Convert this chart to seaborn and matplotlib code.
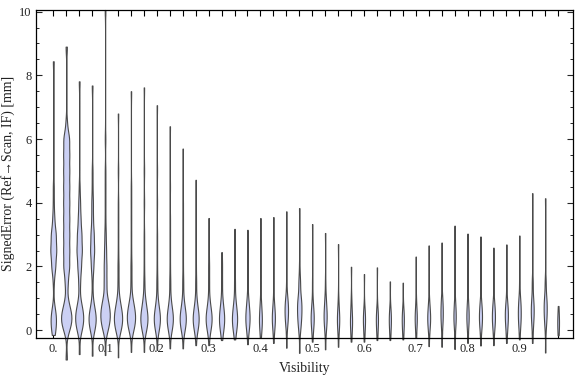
import numpy as np
import pandas as pd
import matplotlib
matplotlib.use("Agg")
import matplotlib.pyplot as plt
import seaborn as sns
from matplotlib.ticker import FixedLocator, MultipleLocator

# Visibility bins (one violin each)
visibility = [0.000, 0.025, 0.050, 0.075, 0.100, 0.125, 0.150, 0.175, 0.200, 0.225,
              0.250, 0.275, 0.300, 0.325, 0.350, 0.375, 0.400, 0.425, 0.450, 0.475,
              0.500, 0.525, 0.550, 0.575, 0.600, 0.625, 0.650, 0.675, 0.700, 0.725,
              0.750, 0.775, 0.800, 0.825, 0.850, 0.875, 0.900, 0.925, 0.950, 0.975]

# extremes of the signed error per bin [mm]
err_min = [-0.15, -0.92, -0.75, -0.80, -0.78, -0.85, -0.68, -0.68, -0.62, -0.57,
           -0.57, -0.47, -0.47, -0.31, -0.29, -0.44, -0.23, -0.40, -0.55, -0.71,
           -0.36, -0.60, -0.52, -0.36, -0.36, -0.31, -0.31, -0.29, -0.23, -0.50,
           -0.52, -0.59, -0.40, -0.48, -0.47, -0.40, -0.29, -0.40, -0.70, -0.16]
err_max = [8.44, 8.90, 7.81, 7.68, 10.05, 6.80, 7.50, 7.62, 7.06, 6.40,
           5.70, 4.72, 3.52, 2.45, 3.18, 3.15, 3.52, 3.55, 3.73, 3.83,
           3.33, 3.05, 2.70, 1.99, 1.76, 1.97, 1.53, 1.49, 2.31, 2.66,
           2.75, 3.28, 3.03, 2.94, 2.59, 2.69, 2.97, 4.30, 4.14, 0.76]

# binned error samples: counts at each error level [mm]
levels = [0, 0.25, 0.5, 0.75, 1.0, 1.5, 2.0, 2.5, 3.0, 3.5, 4.0, 4.5, 5.0, 5.5, 6.0, 6.5]
level_counts = [
    [2, 3, 3, 1, 0, 1, 4, 6, 5, 2, 1, 1],
    [2, 4, 4, 2, 1, 2, 4, 4, 4, 4, 4, 4, 4, 4, 4, 1],
    [3, 5, 5, 3, 1, 2, 4, 6, 5, 3, 2, 1],
    [3, 5, 5, 2, 1, 1, 3, 5, 4, 2, 2, 1, 1],
    [4, 7, 8, 6, 4, 4, 4, 3, 2, 1, 1, 1, 1, 0, 1],
    [6, 9, 9, 5, 3, 2, 2, 1, 1, 1, 1, 0, 1],
    [5, 9, 9, 6, 3, 2, 2, 1, 1, 1, 1, 1],
    [5, 8, 8, 4, 3, 2, 1, 1, 1, 0, 1, 0, 1],
    [4, 7, 7, 3, 2, 2, 1, 1, 1, 0, 1, 0, 1],
    [4, 7, 7, 3, 2, 2, 1, 1, 1, 1, 0, 1],
    [4, 7, 7, 3, 2, 2, 1, 1, 1, 1, 1],
    [4, 7, 7, 3, 2, 2, 1, 1, 1, 1],
    [4, 7, 7, 3, 2, 2, 2, 1, 1],
    [4, 6, 6, 3, 2, 2, 2],
    [4, 6, 6, 3, 2, 2, 1, 1],
    [3, 5, 5, 3, 2, 1, 1],
    [2, 4, 3, 2, 1, 1],
    [2, 4, 4, 2, 1, 1],
    [1, 3, 4, 4, 3, 1],
    [2, 3, 4, 4, 4, 3, 1],
    [2, 4, 4, 2, 1, 1],
    [2, 3, 4, 2, 2, 1],
    [2, 3, 3, 1, 1],
    [2, 3, 2, 1, 1],
    [2, 3, 3, 1],
    [2, 3, 3, 1],
    [2, 3, 3, 1],
    [2, 3, 3, 1],
    [1, 3, 3, 1, 1],
    [2, 4, 4, 2, 1],
    [1, 2, 3, 2, 2],
    [1, 3, 3, 2, 1],
    [1, 3, 3, 2, 1],
    [2, 4, 4, 3, 1],
    [2, 4, 4, 3, 1],
    [2, 3, 4, 3, 1, 1],
    [1, 3, 3, 3, 2, 1],
    [1, 2, 3, 3, 2, 2],
    [1, 2, 3, 3, 3, 2],
    [2, 3, 2],
]

xtick_values = [0.0, 0.1, 0.2, 0.3, 0.4, 0.5, 0.6, 0.7, 0.8, 0.9]
xtick_labels = ["0.", "0.1", "0.2", "0.3", "0.4", "0.5", "0.6", "0.7", "0.8", "0.9"]
ytick_values = [0, 2, 4, 6, 8, 10]

rows = []
for v, lo, hi, cnt in zip(visibility, err_min, err_max, level_counts):
    vals = [lo] + list(np.repeat(levels[:len(cnt)], cnt)) + [hi]
    rows += [(v, e) for e in vals]
df = pd.DataFrame(rows, columns=["Visibility", "SignedError"])

sns.set_style("ticks")
plt.rcParams["font.family"] = ["Liberation Serif", "DejaVu Serif"]


def fixed_bw(kde):
    # same absolute smoothing for every bin
    return 0.24 / kde.dataset.std(ddof=1)


fig = plt.figure(figsize=(5.76, 3.77), dpi=100)
ax = fig.add_axes([36 / 576, 39.5 / 377, 537 / 576, 327.5 / 377])

sns.violinplot(data=df, x="Visibility", y="SignedError", native_scale=True,
               inner=None, cut=0, density_norm="count", width=0.8,
               bw_method=fixed_bw, color="#cbd0f4", saturation=1,
               linecolor="#4a4a4a", linewidth=0.8, ax=ax)
for c in ax.collections:
    c.set_clip_on(False)

ax.set_xlim(-0.0334, 1.0037)
ax.set_ylim(-0.23, 10.05)

ax.xaxis.set_major_locator(FixedLocator(xtick_values))
ax.set_xticklabels(xtick_labels)
ax.xaxis.set_minor_locator(FixedLocator(visibility))
ax.yaxis.set_major_locator(FixedLocator(ytick_values))
ax.yaxis.set_minor_locator(MultipleLocator(0.5))
ax.tick_params(axis="x", which="both", direction="in", top=True, length=4.5,
               width=0.8, labelsize=9, pad=4, colors="black", labelcolor="#222222")
ax.tick_params(axis="y", which="major", direction="in", right=True, length=4.5,
               width=0.8, labelsize=9, pad=3, labelcolor="#222222")
ax.tick_params(axis="y", which="minor", direction="in", right=True, length=2.5, width=0.7)
for s in ax.spines.values():
    s.set_linewidth(0.9)
    s.set_color("black")

ax.set_xlabel("Visibility", fontsize=10, color="#222222", labelpad=5)
ax.set_ylabel("SignedError (Ref\u2192Scan, IF) [mm]", fontsize=10, color="#222222", labelpad=3)

fig.savefig("out.png", dpi=100)
